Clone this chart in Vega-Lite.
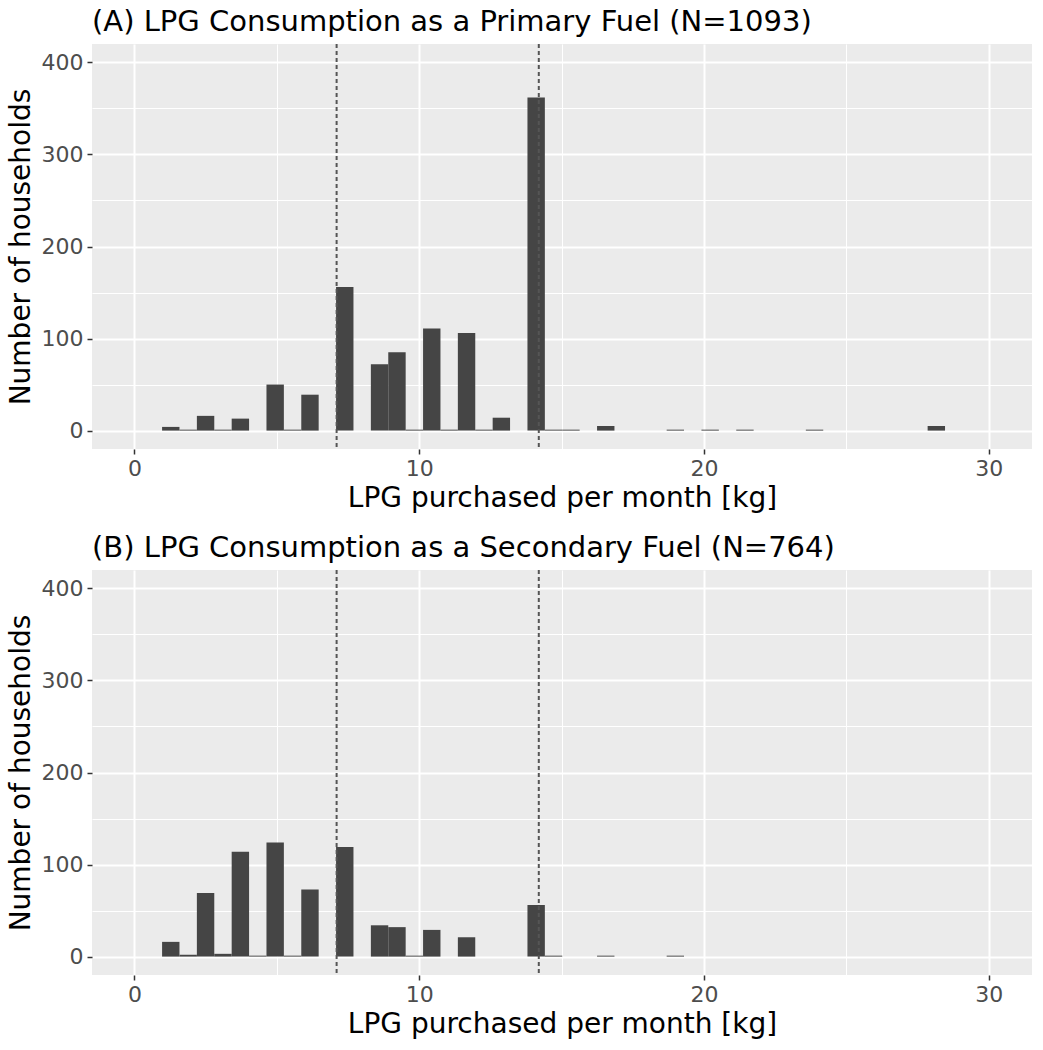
{
  "$schema": "https://vega.github.io/schema/vega-lite/v6.json",
  "background": "white",
  "padding": {"left": 7, "top": 8, "right": 10, "bottom": 5},
  "config": {
    "font": "DejaVu Sans",
    "view": {"fill": "#EBEBEB", "stroke": null},
    "axis": {
      "domain": false,
      "gridColor": "white",
      "tickColor": "#333333",
      "tickSize": 5,
      "tickWidth": 1.5,
      "labelColor": "#4D4D4D",
      "labelFontSize": 22,
      "labelPadding": 4,
      "titleFontSize": 28,
      "titleFontWeight": "normal",
      "titleColor": "black"
    },
    "title": {"fontSize": 29, "fontWeight": "normal", "anchor": "start", "color": "black", "frame": "group", "offset": 6},
    "concat": {"spacing": 22}
  },
  "datasets": {
    "primary": [
      {"bin_start": 0.971, "bin_end": 1.582, "count": 4},
      {"bin_start": 1.582, "bin_end": 2.193, "count": 1},
      {"bin_start": 2.193, "bin_end": 2.804, "count": 16},
      {"bin_start": 2.804, "bin_end": 3.415, "count": 1},
      {"bin_start": 3.415, "bin_end": 4.026, "count": 13},
      {"bin_start": 4.637, "bin_end": 5.248, "count": 50},
      {"bin_start": 5.248, "bin_end": 5.859, "count": 1},
      {"bin_start": 5.859, "bin_end": 6.470, "count": 39},
      {"bin_start": 7.081, "bin_end": 7.692, "count": 156},
      {"bin_start": 8.303, "bin_end": 8.914, "count": 72},
      {"bin_start": 8.914, "bin_end": 9.525, "count": 85},
      {"bin_start": 9.525, "bin_end": 10.136, "count": 1},
      {"bin_start": 10.136, "bin_end": 10.747, "count": 111},
      {"bin_start": 10.747, "bin_end": 11.358, "count": 1},
      {"bin_start": 11.358, "bin_end": 11.969, "count": 106},
      {"bin_start": 11.969, "bin_end": 12.580, "count": 1},
      {"bin_start": 12.580, "bin_end": 13.191, "count": 14},
      {"bin_start": 13.802, "bin_end": 14.413, "count": 362},
      {"bin_start": 14.413, "bin_end": 15.024, "count": 1},
      {"bin_start": 15.024, "bin_end": 15.635, "count": 1},
      {"bin_start": 16.246, "bin_end": 16.857, "count": 5},
      {"bin_start": 18.690, "bin_end": 19.301, "count": 1},
      {"bin_start": 19.912, "bin_end": 20.523, "count": 1},
      {"bin_start": 21.134, "bin_end": 21.745, "count": 1},
      {"bin_start": 23.578, "bin_end": 24.189, "count": 1},
      {"bin_start": 27.855, "bin_end": 28.466, "count": 5}
    ],
    "secondary": [
      {"bin_start": 0.971, "bin_end": 1.582, "count": 16},
      {"bin_start": 1.582, "bin_end": 2.193, "count": 2},
      {"bin_start": 2.193, "bin_end": 2.804, "count": 69},
      {"bin_start": 2.804, "bin_end": 3.415, "count": 3},
      {"bin_start": 3.415, "bin_end": 4.026, "count": 114},
      {"bin_start": 4.026, "bin_end": 4.637, "count": 1},
      {"bin_start": 4.637, "bin_end": 5.248, "count": 124},
      {"bin_start": 5.248, "bin_end": 5.859, "count": 1},
      {"bin_start": 5.859, "bin_end": 6.470, "count": 73},
      {"bin_start": 7.081, "bin_end": 7.692, "count": 119},
      {"bin_start": 8.303, "bin_end": 8.914, "count": 34},
      {"bin_start": 8.914, "bin_end": 9.525, "count": 32},
      {"bin_start": 9.525, "bin_end": 10.136, "count": 1},
      {"bin_start": 10.136, "bin_end": 10.747, "count": 29},
      {"bin_start": 11.358, "bin_end": 11.969, "count": 21},
      {"bin_start": 13.802, "bin_end": 14.413, "count": 56},
      {"bin_start": 14.413, "bin_end": 15.024, "count": 1},
      {"bin_start": 16.246, "bin_end": 16.857, "count": 1},
      {"bin_start": 18.690, "bin_end": 19.301, "count": 1}
    ],
    "refs": [{"kg": 7.1}, {"kg": 14.2}]
  },
  "vconcat": [
    {
      "width": 940,
      "height": 405,
      "title": {"text": "(A) LPG Consumption as a Primary Fuel (N=1093)"},
      "layer": [
        {
          "data": {"name": "primary"},
          "mark": {"type": "bar", "color": "#454545"},
          "encoding": {
            "x": {
              "field": "bin_start", "type": "quantitative",
              "scale": {"domain": [-1.49, 31.52], "nice": false, "zero": false},
              "axis": {
                "title": "LPG purchased per month [kg]",
                "values": [0, 5, 10, 15, 20, 25, 30],
                "labelExpr": "datum.value % 10 === 0 ? datum.label : ''",
                "gridWidth": {"condition": {"test": "datum.value % 10 === 0", "value": 2}, "value": 1},
                "tickOpacity": {"condition": {"test": "datum.value % 10 === 0", "value": 1}, "value": 0},
                "titlePadding": 5
              }
            },
            "x2": {"field": "bin_end"},
            "y": {
              "field": "count", "type": "quantitative",
              "scale": {"domain": [-20, 420], "nice": false, "zero": false},
              "axis": {
                "title": "Number of households",
                "values": [0, 50, 100, 150, 200, 250, 300, 350, 400],
                "labelExpr": "datum.value % 100 === 0 ? datum.label : ''",
                "gridWidth": {"condition": {"test": "datum.value % 100 === 0", "value": 2}, "value": 1},
                "tickOpacity": {"condition": {"test": "datum.value % 100 === 0", "value": 1}, "value": 0},
                "titlePadding": 6
              }
            },
            "y2": {"datum": 0}
          }
        },
        {
          "data": {"name": "refs"},
          "mark": {"type": "rule", "color": "#555555", "strokeWidth": 2, "strokeDash": [4, 3]},
          "encoding": {"x": {"field": "kg", "type": "quantitative"}}
        }
      ]
    },
    {
      "width": 940,
      "height": 405,
      "title": {"text": "(B) LPG Consumption as a Secondary Fuel (N=764)"},
      "layer": [
        {
          "data": {"name": "secondary"},
          "mark": {"type": "bar", "color": "#454545"},
          "encoding": {
            "x": {
              "field": "bin_start", "type": "quantitative",
              "scale": {"domain": [-1.49, 31.52], "nice": false, "zero": false},
              "axis": {
                "title": "LPG purchased per month [kg]",
                "values": [0, 5, 10, 15, 20, 25, 30],
                "labelExpr": "datum.value % 10 === 0 ? datum.label : ''",
                "gridWidth": {"condition": {"test": "datum.value % 10 === 0", "value": 2}, "value": 1},
                "tickOpacity": {"condition": {"test": "datum.value % 10 === 0", "value": 1}, "value": 0},
                "titlePadding": 5
              }
            },
            "x2": {"field": "bin_end"},
            "y": {
              "field": "count", "type": "quantitative",
              "scale": {"domain": [-20, 420], "nice": false, "zero": false},
              "axis": {
                "title": "Number of households",
                "values": [0, 50, 100, 150, 200, 250, 300, 350, 400],
                "labelExpr": "datum.value % 100 === 0 ? datum.label : ''",
                "gridWidth": {"condition": {"test": "datum.value % 100 === 0", "value": 2}, "value": 1},
                "tickOpacity": {"condition": {"test": "datum.value % 100 === 0", "value": 1}, "value": 0},
                "titlePadding": 6
              }
            },
            "y2": {"datum": 0}
          }
        },
        {
          "data": {"name": "refs"},
          "mark": {"type": "rule", "color": "#555555", "strokeWidth": 2, "strokeDash": [4, 3]},
          "encoding": {"x": {"field": "kg", "type": "quantitative"}}
        }
      ]
    }
  ]
}
